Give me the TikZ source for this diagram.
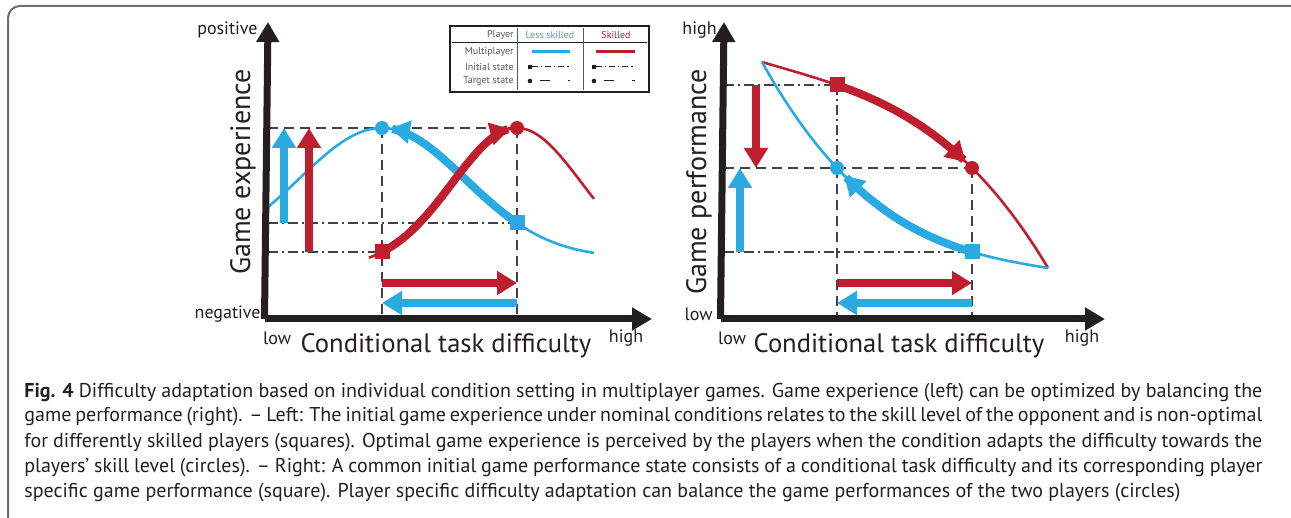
\documentclass[tikz,border=0pt]{standalone}
\usepackage{fontspec}
\setmainfont{PT Sans}
\usetikzlibrary{arrows.meta}
\definecolor{cblue}{HTML}{29ABE2}
\definecolor{cred}{HTML}{BE1E2D}
\definecolor{cax}{HTML}{231F20}
\definecolor{cgrid}{HTML}{414042}
\definecolor{cframe}{HTML}{6D6E71}
\definecolor{ctext}{HTML}{58595B}
\newcommand{\capline}[1]{\makebox[619pt][s]{#1}}
\begin{document}
\begin{tikzpicture}[x=0.5pt,y=-0.5pt,
  declare function={
    gb(\x)=128+130*(1-exp(-((\x-382)/100)*((\x-382)/100)/1.388));
    gr(\x)=128+140*(1-exp(-((\x-517)/100)*((\x-517)/100)/0.84));
    rr(\t)=62+29.877*\t-3.81*\t*\t+6.485*\t*\t*\t;
    rb(\t)=62+179.59*\t-55.77*\t*\t+6.351*\t*\t*\t;},
  axis/.style={line width=3.5pt,draw=cax,-{Triangle[length=10pt,width=11pt]}},
  guide/.style={draw=cgrid,line width=0.6pt,dash pattern=on 5pt off 3pt},
  guidedd/.style={draw=cgrid,line width=0.6pt,dash pattern=on 5pt off 2pt on 1pt off 2pt},
  thinb/.style={draw=cblue,line width=1.3pt},
  thinr/.style={draw=cred,line width=1.3pt},
  curvearrow/.style={line width=4pt,-{Triangle[length=10pt,width=11pt]}},
  bigarrow/.style={line width=3.8pt,-{Triangle[length=10pt,width=11.5pt]}},
  lab/.style={font=\fontsize{9}{10}\selectfont,text=cax,inner sep=0pt},
  axtitle/.style={font=\fontsize{13.3}{15}\selectfont,text=cax,inner sep=0pt},
  ytitle/.style={font=\fontsize{14}{16}\selectfont,text=cax,inner sep=0pt,rotate=90},
  sqmark/.style={minimum size=7.5pt,inner sep=0pt,outer sep=0pt},
  cimark/.style={circle,minimum size=7pt,inner sep=0pt,outer sep=0pt},
  legtext/.style={font=\fontsize{5}{6}\selectfont,inner sep=0pt,text=ctext},
  captext/.style={font=\fontsize{10}{12}\selectfont,text=cax,inner sep=0pt,anchor=base west},
]
\useasboundingbox (0,0) rectangle (1291,518);
\fill[white] (0,0) rectangle (1291,518);
% frame
\draw[cframe,line width=1pt,rounded corners=6pt] (8,518) -- (8,6) -- (1291,6);

% ================= LEFT PLOT =================
\coordinate (LYt) at (268,22);
\coordinate (LXt) at (652,319);
% guides
\draw[guide] (268,128) -- (517,128);
\draw[guidedd] (268,223) -- (517,223);
\draw[guidedd] (268,252) -- (382,252);
\draw[guide] (382,128) -- (382,319);
\draw[guide] (517,128) -- (517,319);
% thin curves
\draw[thinb] plot[domain=268:594,samples=80] (\x,{gb(\x)});
\draw[thinr] plot[domain=369:594,samples=80] (\x,{gr(\x)});
% thick curves
\draw[curvearrow,cblue] plot[domain=517:390,samples=60] (\x,{gb(\x)});
\draw[curvearrow,cred] plot[domain=382:510,samples=60] (\x,{gr(\x)});
% markers
\node[sqmark,fill=cblue] (lbS) at (517,223) {};
\node[cimark,fill=cblue] (lbC) at (382,128) {};
\node[sqmark,fill=cred] (lrS) at (382,252) {};
\node[cimark,fill=cred] (lrC) at (517,128) {};
% vertical arrows
\coordinate (lbv0) at (284,223); \coordinate (lbv1) at (284,128);
\coordinate (lrv0) at (309,252); \coordinate (lrv1) at (309,128);
\draw[bigarrow,cblue] (lbv0) -- (lbv1);
\draw[bigarrow,cred] (lrv0) -- (lrv1);
% horizontal arrows
\coordinate (lrh0) at (382,283); \coordinate (lrh1) at (517,283);
\coordinate (lbh0) at (517,303); \coordinate (lbh1) at (382,303);
\draw[bigarrow,cred] (lrh0) -- (lrh1);
\draw[bigarrow,cblue] (lbh0) -- (lbh1);
% axes
\draw[axis] (264.5,319) -- (LYt);
\draw[axis] (264.5,319) -- (LXt);
% labels
\node[lab,anchor=east] (lpos) at (258,30) {positive};
\node[lab,anchor=east] (lneg) at (261,314) {negative};
\node[lab] (llow) at (277,338) {low};
\node[lab] (lhigh) at (626,338) {high};
\node[axtitle] (lxt) at (446,346) {Conditional task difficulty};
\node[ytitle] (lyt) at (243,172) {Game experience};

% legend
\draw[cax,line width=1.1pt] (450,26) rectangle (649,92);
\draw[cax,line width=0.5pt] (452,43) -- (647,43);
\draw[ctext,line width=0.5pt] (517,28) -- (517,90);
\draw[ctext,line width=0.5pt] (583,28) -- (583,90);
\node[legtext,anchor=east] (lgP) at (514,35) {Player};
\node[legtext,text=cblue] (lgL) at (550,35) {Less skilled};
\node[legtext,text=cred] (lgS) at (616,35) {Skilled};
\node[legtext,anchor=east] (lgM) at (514,52) {Multiplayer};
\node[legtext,anchor=east] (lgI) at (514,67) {Initial state};
\node[legtext,anchor=east] (lgT) at (514,81) {Target state};
\draw[cblue,line width=1.5pt] (532,52) -- (570,52);
\draw[cred,line width=1.5pt] (596,52) -- (635,52);
\fill[cax] (528,65) rectangle (532,69);
\fill[cax] (592,65) rectangle (596,69);
\draw[cax,line width=0.5pt,dash pattern=on 3pt off 1.5pt on 0.6pt off 1.5pt] (532,67) -- (570,67);
\draw[cax,line width=0.5pt,dash pattern=on 3pt off 1.5pt on 0.6pt off 1.5pt] (596,67) -- (635,67);
\fill[cax] (530,81) circle[radius=2.3];
\fill[cax] (594,81) circle[radius=2.3];
\draw[cax,line width=0.5pt,dash pattern=on 0pt off 5pt on 5pt off 4pt] (530,81) -- (570,81);
\draw[cax,line width=0.5pt,dash pattern=on 0pt off 5pt on 5pt off 4pt] (594,81) -- (635,81);

% ================= RIGHT PLOT =================
\coordinate (RYt) at (724,22);
\coordinate (RXt) at (1105,319);
% guides
\draw[guidedd] (724,85) -- (837,85);
\draw[guide] (724,168) -- (972,168);
\draw[guidedd] (724,252) -- (972,252);
\draw[guidedd] (837,85) -- (837,168);
\draw[guide] (837,168) -- (837,319);
\draw[guide] (972,168) -- (972,319);
% thin curves
\draw[thinr] plot[domain=0:2.86,samples=80,variable=\t] ({762+100*\t},{rr(\t)});
\draw[thinb] plot[domain=0:2.86,samples=80,variable=\t] ({762+100*\t},{rb(\t)});
% thick curves
\draw[curvearrow,cred] plot[domain=0.75:2.04,samples=60,variable=\t] ({762+100*\t},{rr(\t)});
\draw[curvearrow,cblue] plot[domain=2.10:0.82,samples=60,variable=\t] ({762+100*\t},{rb(\t)});
% markers
\node[sqmark,fill=cred] (rrS) at (837,85) {};
\node[cimark,fill=cred] (rrC) at (972,168) {};
\node[sqmark,fill=cblue] (rbS) at (972,252) {};
\node[cimark,fill=cblue] (rbC) at (837,168) {};
% vertical arrows
\coordinate (rrv0) at (756,85); \coordinate (rrv1) at (756,168);
\coordinate (rbv0) at (740,252); \coordinate (rbv1) at (740,168);
\draw[bigarrow,cred] (rrv0) -- (rrv1);
\draw[bigarrow,cblue] (rbv0) -- (rbv1);
% horizontal arrows
\coordinate (rrh0) at (837,283); \coordinate (rrh1) at (972,283);
\coordinate (rbh0) at (972,303); \coordinate (rbh1) at (837,303);
\draw[bigarrow,cred] (rrh0) -- (rrh1);
\draw[bigarrow,cblue] (rbh0) -- (rbh1);
% axes
\draw[axis] (720.5,319) -- (RYt);
\draw[axis] (720.5,319) -- (RXt);
% labels
\node[lab,anchor=east] (rhi) at (717,30) {high};
\node[lab,anchor=east] (rlo) at (713,314) {low};
\node[lab] (rxlow) at (732,338) {low};
\node[lab] (rxhigh) at (1082,338) {high};
\node[axtitle] (rxt) at (899,346) {Conditional task difficulty};
\node[ytitle] (ryt) at (699,182) {Game performance};

% ================= CAPTION =================
\node[captext] (c1) at (24,397) {\capline{\textbf{Fig. 4} Difficulty adaptation based on individual condition setting in multiplayer games. Game experience (left) can be optimized by balancing the}};
\node[captext] (c2) at (24,422) {\capline{game performance (right). – Left: The initial game experience under nominal conditions relates to the skill level of the opponent and is non-optimal}};
\node[captext] (c3) at (24,447) {\capline{for differently skilled players (squares). Optimal game experience is perceived by the players when the condition adapts the difficulty towards the}};
\node[captext] (c4) at (24,472) {\capline{players’ skill level (circles). – Right: A common initial game performance state consists of a conditional task difficulty and its corresponding player}};
\node[captext] (c5) at (24,497) {specific game performance (square). Player specific difficulty adaptation can balance the game performances of the two players (circles)};
\end{tikzpicture}
\end{document}
